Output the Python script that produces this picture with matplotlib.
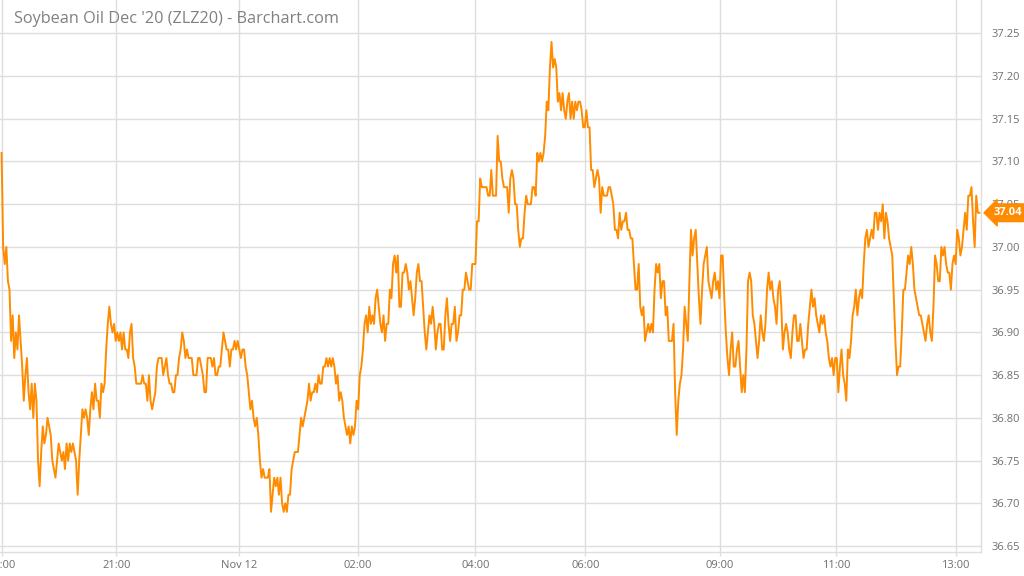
import numpy as np
import matplotlib
matplotlib.use("Agg")
import matplotlib.pyplot as plt
from matplotlib.transforms import blended_transform_factory
from matplotlib.ticker import FormatStrFormatter

plt.rcParams['font.family'] = ['Open Sans', 'DejaVu Sans']

title = "Soybean Oil Dec '20 (ZLZ20) - Barchart.com"

# Prices per bar, split by session windows between time labels
seg_19_21 = [37.11, 37.00, 36.98, 37.00, 36.96, 36.95, 36.89, 36.92, 36.87, 36.90,
             36.88, 36.92, 36.89, 36.86, 36.82, 36.85, 36.87, 36.83, 36.81, 36.84,
             36.80, 36.84, 36.82, 36.75, 36.72, 36.76, 36.79, 36.77, 36.78, 36.80,
             36.79, 36.78, 36.75, 36.74, 36.73, 36.75, 36.77, 36.76, 36.75, 36.76,
             36.74, 36.77, 36.75, 36.77, 36.76, 36.77, 36.76, 36.75, 36.71, 36.75,
             36.78, 36.81, 36.80, 36.81, 36.80, 36.78, 36.81, 36.83, 36.81, 36.84,
             36.82, 36.82, 36.80, 36.84, 36.83, 36.84, 36.88, 36.91, 36.93, 36.91,
             36.90, 36.91, 36.89]
seg_21_00 = [36.90, 36.89, 36.90, 36.88, 36.90, 36.88, 36.88, 36.87, 36.90, 36.91,
             36.87, 36.86, 36.84, 36.84, 36.84, 36.84, 36.85, 36.84, 36.84, 36.82,
             36.85, 36.82, 36.81, 36.82, 36.83, 36.86, 36.87, 36.87, 36.87, 36.85,
             36.86, 36.87, 36.85, 36.84, 36.84, 36.83, 36.83, 36.85, 36.85, 36.87,
             36.88, 36.90, 36.89, 36.87, 36.88, 36.87, 36.87, 36.87, 36.85, 36.85,
             36.85, 36.87, 36.87, 36.86, 36.85, 36.83, 36.83, 36.87, 36.87, 36.87,
             36.86, 36.87, 36.85, 36.85, 36.86, 36.86, 36.88, 36.90, 36.89, 36.88,
             36.88, 36.86, 36.88, 36.88, 36.89, 36.88, 36.89]
seg_00_02 = [36.88, 36.87, 36.88, 36.88, 36.86, 36.85, 36.83, 36.81, 36.82, 36.80,
             36.79, 36.80, 36.78, 36.75, 36.73, 36.74, 36.73, 36.73, 36.73, 36.74,
             36.69, 36.71, 36.73, 36.72, 36.73, 36.71, 36.73, 36.70, 36.69, 36.70,
             36.69, 36.71, 36.71, 36.74, 36.75, 36.76, 36.76, 36.76, 36.78, 36.80,
             36.79, 36.80, 36.81, 36.82, 36.84, 36.82, 36.83, 36.83, 36.84, 36.83,
             36.85, 36.84, 36.84, 36.86, 36.86, 36.87, 36.86, 36.87, 36.86, 36.87,
             36.86, 36.84, 36.85, 36.82, 36.83, 36.82, 36.80, 36.79, 36.78, 36.79,
             36.77, 36.79, 36.78, 36.79, 36.82, 36.81]
seg_02_04 = [36.85, 36.86, 36.88, 36.91, 36.92, 36.90, 36.93, 36.91, 36.92, 36.91,
             36.94, 36.95, 36.93, 36.91, 36.90, 36.92, 36.89, 36.91, 36.91, 36.95,
             36.94, 36.98, 36.99, 36.97, 36.99, 36.93, 36.93, 36.97, 36.97, 36.98,
             36.97, 36.95, 36.96, 36.94, 36.92, 36.94, 36.97, 36.98, 36.96, 36.96,
             36.93, 36.90, 36.88, 36.90, 36.92, 36.91, 36.93, 36.91, 36.88, 36.90,
             36.91, 36.91, 36.88, 36.88, 36.92, 36.94, 36.91, 36.89, 36.91, 36.91,
             36.93, 36.89, 36.90, 36.92, 36.92, 36.95, 36.95, 36.97, 36.96, 36.95,
             36.95, 36.98, 36.98, 36.98]
seg_04_06 = [37.03, 37.03, 37.08, 37.07, 37.07, 37.07, 37.07, 37.06, 37.06, 37.09,
             37.06, 37.06, 37.06, 37.13, 37.10, 37.10, 37.08, 37.07, 37.07, 37.07,
             37.04, 37.08, 37.09, 37.08, 37.05, 37.05, 37.02, 37.00, 37.01, 37.01,
             37.04, 37.06, 37.05, 37.05, 37.05, 37.07, 37.07, 37.06, 37.11, 37.10,
             37.11, 37.10, 37.11, 37.13, 37.17, 37.16, 37.21, 37.24, 37.21, 37.22,
             37.21, 37.17, 37.18, 37.16, 37.18, 37.16, 37.15, 37.17, 37.18, 37.15,
             37.17, 37.15, 37.17, 37.16, 37.17, 37.17, 37.16, 37.14, 37.14, 37.16]
seg_06_09 = [37.14, 37.14, 37.09, 37.09, 37.07, 37.08, 37.09, 37.08, 37.04, 37.07,
             37.06, 37.06, 37.06, 37.07, 37.07, 37.06, 37.05, 37.02, 37.02, 37.01,
             37.04, 37.02, 37.03, 37.03, 37.04, 37.02, 37.02, 37.01, 37.01, 36.98,
             36.95, 36.95, 36.98, 36.93, 36.92, 36.93, 36.89, 36.90, 36.91, 36.90,
             36.91, 36.90, 36.95, 36.98, 36.97, 36.98, 36.94, 36.96, 36.96, 36.92,
             36.93, 36.89, 36.89, 36.89, 36.91, 36.83, 36.78, 36.82, 36.84, 36.85,
             36.88, 36.93, 36.91, 36.89, 36.96, 37.02, 36.99, 37.01, 37.02, 36.98,
             36.94, 36.91, 36.95, 36.98, 36.99, 37.00, 36.96, 36.95, 36.94, 36.96,
             36.97, 36.95, 36.96, 36.94]
seg_09_11 = [36.99, 36.99, 36.94, 36.90, 36.87, 36.85, 36.88, 36.90, 36.86, 36.86,
             36.88, 36.89, 36.86, 36.83, 36.85, 36.83, 36.88, 36.96, 36.97, 36.96,
             36.92, 36.91, 36.89, 36.87, 36.89, 36.92, 36.90, 36.89, 36.91, 36.95,
             36.97, 36.95, 36.96, 36.94, 36.93, 36.91, 36.95, 36.96, 36.93, 36.88,
             36.90, 36.91, 36.90, 36.88, 36.87, 36.90, 36.92, 36.92, 36.89, 36.89,
             36.91, 36.89, 36.87, 36.88, 36.88, 36.91, 36.93, 36.95, 36.93, 36.94,
             36.92, 36.91, 36.90, 36.92, 36.91, 36.92, 36.90, 36.89, 36.87, 36.86,
             36.87, 36.85, 36.87, 36.87]
seg_11_close = [36.83, 36.86, 36.88, 36.85, 36.84, 36.82, 36.88, 36.87, 36.89, 36.92,
                36.93, 36.95, 36.92, 36.94, 36.95, 36.94, 36.98, 37.01, 37.02, 37.00,
                37.01, 37.02, 37.01, 37.04, 37.04, 37.02, 37.04, 37.03, 37.05, 37.01,
                37.04, 37.03, 37.01, 37.00, 36.99, 36.94, 36.89, 36.85, 36.86, 36.86,
                36.90, 36.95, 36.95, 36.97, 36.99, 36.98, 37.00, 36.98, 36.95, 36.94,
                36.93, 36.92, 36.92, 36.91, 36.90, 36.89, 36.91, 36.92, 36.90, 36.89,
                36.93, 36.99, 36.98, 36.96, 36.96, 37.00, 36.99, 37.00, 36.98, 36.97,
                36.97, 36.95, 36.98, 36.99, 36.98, 37.02, 37.01, 36.99, 37.00, 37.02,
                37.04, 37.02, 37.06, 37.06, 37.07, 37.03, 37.00, 37.06, 37.04, 37.04]

# Time labels and the bar index at which each occurs
time_labels = ["19:00", "21:00", "Nov 12", "02:00", "04:00", "06:00", "09:00", "11:00", "13:00"]
time_bar_index = [0, 72.5, 149.6, 225, 299, 368.4, 453, 526.6, 602]

price_ticks = [36.65, 36.70, 36.75, 36.80, 36.85, 36.90, 36.95, 37.00,
               37.05, 37.10, 37.15, 37.20, 37.25]

prices = np.array(seg_19_21 + seg_21_00 + seg_00_02 + seg_02_04 + seg_04_06
                  + seg_06_09 + seg_09_11 + seg_11_close)
bars = np.arange(len(prices))

ORANGE = '#FF8C00'
GRID = '#dedede'
LABEL = '#6f6f6f'

fig = plt.figure(figsize=(10.24, 5.76), dpi=100)
ax = fig.add_axes([0, 1 - 552 / 576, 981 / 1024, 552 / 576])
ax.plot(bars, prices, color=ORANGE, lw=1.4, zorder=3)

ax.set_xlim(-1, len(prices))
ax.set_ylim(36.643, 37.289)
ax.set_xticks(time_bar_index)
ax.set_xticklabels(time_labels)
ax.set_yticks(price_ticks)
ax.yaxis.set_major_formatter(FormatStrFormatter('%.2f'))
ax.yaxis.tick_right()

ax.grid(True, color=GRID, lw=1.0, zorder=0)
ax.set_axisbelow(True)
for s in ['top', 'left']:
    ax.spines[s].set_visible(False)
for s in ['right', 'bottom']:
    ax.spines[s].set_color(GRID)
    ax.spines[s].set_linewidth(1.0)

ax.tick_params(axis='x', length=3, width=1, color=GRID, labelcolor=LABEL,
               labelsize=8, pad=3)
ax.tick_params(axis='y', length=0, labelcolor=LABEL, labelsize=8, pad=7.5)

fig.text(14 / 1024, 1 - 19 / 576, title, fontsize=11.7, color='#808080',
         va='center', ha='left')

trans = blended_transform_factory(ax.transAxes, ax.transData)
ax.text(1.013, prices[-1], f"{prices[-1]:.2f}", transform=trans, ha='left',
        va='center', color='white', fontsize=8, fontweight='bold', zorder=10,
        bbox=dict(boxstyle='larrow,pad=0.3', fc=ORANGE, ec=ORANGE))

fig.savefig('out.png', dpi=100)
